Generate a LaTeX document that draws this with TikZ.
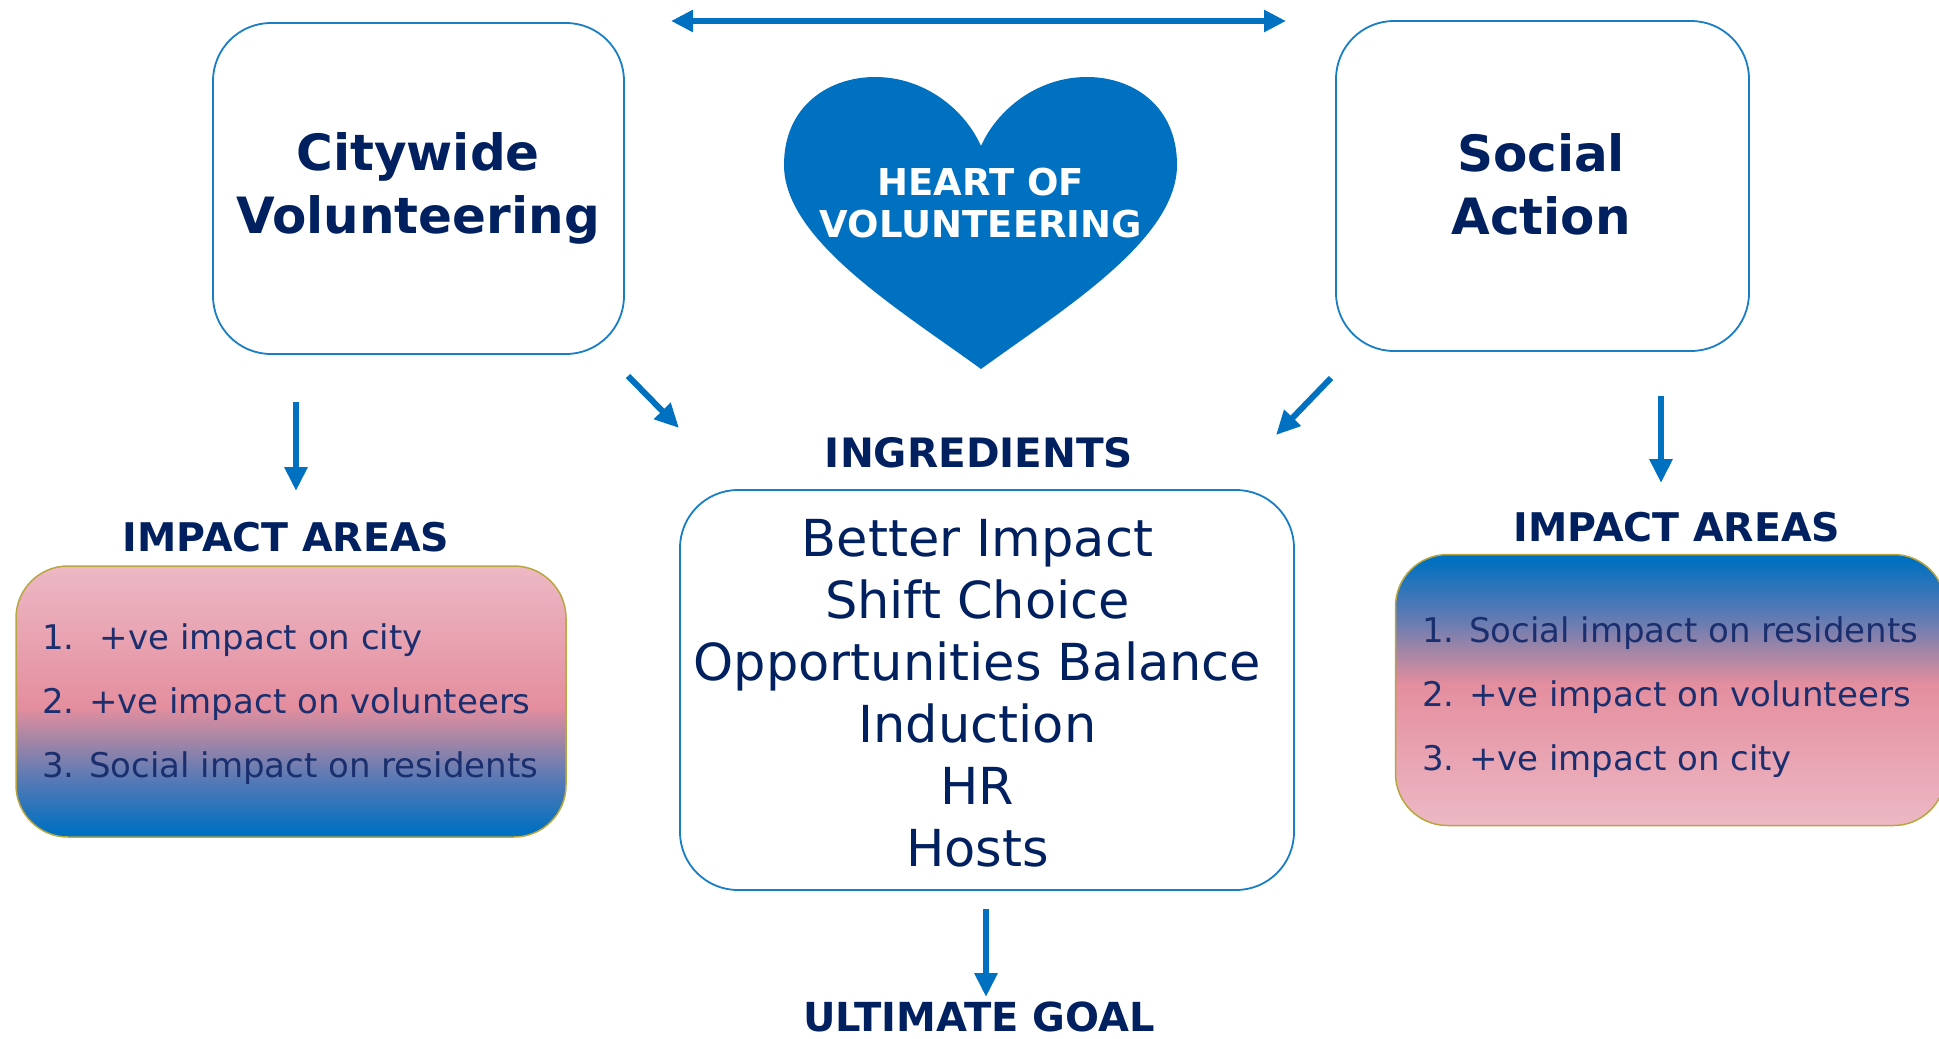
\documentclass[tikz,border=0pt]{standalone}
\usepackage{fontspec}
\setmainfont{DejaVu Sans}
\usetikzlibrary{arrows.meta}

\definecolor{vblue}{HTML}{0070C0}
\definecolor{navy}{HTML}{002060}
\definecolor{listnavy}{HTML}{1B2F6E}
\definecolor{pinklight}{RGB}{237,184,197}
\definecolor{pinkmid}{RGB}{228,142,158}
\definecolor{mauve}{RGB}{170,135,165}
\definecolor{slate}{RGB}{90,122,181}
\definecolor{olive}{HTML}{B8A640}

% blue at the bottom, fading through mauve into pink at the top
\pgfdeclareverticalshading{impactgrad}{100bp}{%
  color(0bp)=(vblue); color(26bp)=(vblue); color(36bp)=(slate);
  color(43.5bp)=(mauve); color(49bp)=(pinkmid);
  color(75bp)=(pinklight); color(100bp)=(pinklight)}

\tikzset{
  card/.style={draw=vblue!90!white, line width=1.8pt, rounded corners=58pt, fill=white,
    inner sep=0pt},
  cardtext/.style={align=center, text=navy, inner sep=0pt},
  cardhead/.style={cardtext, font=\bfseries\fontsize{50}{63}\selectfont},
  heading/.style={font=\bfseries\fontsize{39.5}{39.5}\selectfont, text=navy, inner sep=0pt},
  impactbox/.style={draw=olive, line width=1.5pt, rounded corners=52pt,
    shading=impactgrad, minimum width=550pt, minimum height=271pt, inner sep=0pt},
  impacttext/.style={anchor=west, inner sep=0pt, align=left,
    font=\fontsize{34}{64}\selectfont, text=listnavy},
  arr/.style={draw=vblue, line width=6pt, -{Triangle[length=24pt,width=22pt]}},
  duoarr/.style={draw=vblue, line width=5.5pt,
    {Triangle[length=22pt,width=21pt]}-{Triangle[length=22pt,width=21pt]}},
}

\begin{document}
\begin{tikzpicture}[x=1pt, y=-1pt]
  \useasboundingbox (0,0) rectangle (1939,1039);
  \fill[white] (0,0) rectangle (1939,1039);

  % the two programme boxes
  \node[card, minimum width=411pt, minimum height=331pt] (city) at (418.5,188.5) {};
  \node[cardhead] (cityname) at (418,188.5) {Citywide\\Volunteering};
  \node[card, minimum width=413pt, minimum height=330pt] (social) at (1542.5,186) {};
  \node[cardhead] (socialname) at (1541,184) {Social\\Action};

  % heart
  \fill[vblue] (981,369)
    .. controls (900,310) and (784,240) .. (784,165)
    .. controls (784,105) and (830,77) .. (875,77)
    .. controls (925,77) and (965,110) .. (981,146)
    .. controls (997,110) and (1037,77) .. (1087,77)
    .. controls (1132,77) and (1177,105) .. (1177,165)
    .. controls (1177,240) and (1062,310) .. (981,369) -- cycle;
  \node[font=\bfseries\fontsize{37}{42}\selectfont, text=white, align=center, inner sep=0pt]
    (heart) at (981,203) {HEART OF\\VOLUNTEERING};

  % headings
  \node[heading, font=\bfseries\fontsize{40.5}{40.5}\selectfont] (ingr) at (979,453) {INGREDIENTS};
  \node[heading] (impL) at (286,537) {IMPACT AREAS};
  \node[heading] (impR) at (1677,527) {IMPACT AREAS};
  \node[heading, font=\bfseries\fontsize{40}{40}\selectfont] (goal) at (979,1017) {ULTIMATE GOAL};

  % ingredients box
  \node[card, minimum width=614pt, minimum height=400pt] (mix) at (987,690) {};
  \node[cardtext, font=\fontsize{51}{62}\selectfont] (mixtext) at (977.5,693)
    {Better Impact\\Shift Choice\\Opportunities Balance\\Induction\\HR\\Hosts};

  % impact area lists
  \node[impactbox] (listL) at (291,701.5) {};
  \node[impacttext] (listLtext) at (42,704)
    {1.~ +ve impact on city\\2. +ve impact on volunteers\\3. Social impact on residents};
  \node[impactbox, shading angle=180] (listR) at (1670.5,690) {};
  \node[impacttext] (listRtext) at (1422,697)
    {1. Social impact on residents\\2. +ve impact on volunteers\\3. +ve impact on city};

  % arrow end points
  \coordinate (topL) at (671,21);
  \coordinate (topR) at (1286,21);
  \coordinate (dlA) at (628,376);
  \coordinate (dlB) at (679,428);
  \coordinate (drA) at (1331,378);
  \coordinate (drB) at (1276,435);
  \coordinate (vlA) at (296,402);
  \coordinate (vlB) at (296,491);
  \coordinate (vrA) at (1661,396);
  \coordinate (vrB) at (1661,483);
  \coordinate (vbA) at (986,909);
  \coordinate (vbB) at (986,997);

  % arrows
  \draw[duoarr] (topL) -- (topR);
  \draw[arr] (dlA) -- (dlB);
  \draw[arr] (drA) -- (drB);
  \draw[arr] (vlA) -- (vlB);
  \draw[arr] (vrA) -- (vrB);
  \draw[arr] (vbA) -- (vbB);
\end{tikzpicture}
\end{document}
